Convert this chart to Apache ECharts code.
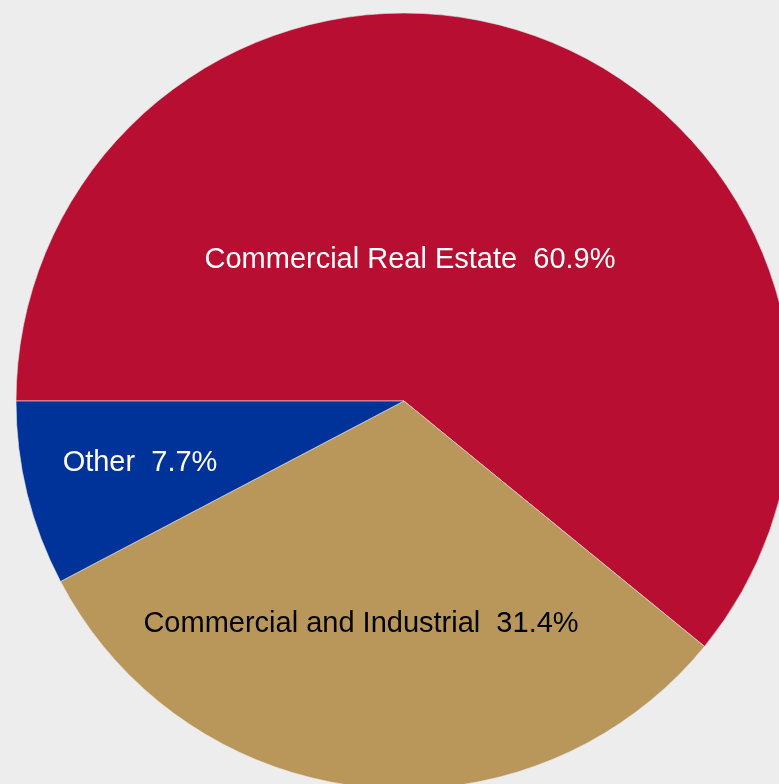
<!DOCTYPE html>
<html>
<head>
<meta charset="utf-8">
<script src="https://cdn.jsdelivr.net/npm/echarts@6/dist/echarts.min.js"></script>
<style>
  html, body { margin: 0; padding: 0; background: #ededed; }
  #chart { width: 779px; height: 784px; }
</style>
</head>
<body>
<div id="chart"></div>
<script>
// Loan portfolio composition (percent of total)
const categories = ['Commercial Real Estate', 'Commercial and Industrial', 'Other'];
const shares = [60.9, 31.4, 7.7];
const sliceColors = ['#b80e31', '#b9975b', '#00339a'];
const labelColors = ['#ffffff', '#000000', '#ffffff'];

// Label anchor points inside each slice (pixels)
const labelSpots = [[410, 260], [361, 624], [140, 463]];

const chart = echarts.init(document.getElementById('chart'), null, { renderer: 'canvas' });

chart.setOption({
  backgroundColor: '#ededed',
  animation: false,
  series: [{
    type: 'pie',
    center: [404, 401],
    radius: 388,
    startAngle: 180,
    clockwise: true,
    avoidLabelOverlap: false,
    itemStyle: { borderColor: '#e8e8e8', borderWidth: 0.6 },
    label: {
      show: true,
      position: 'inside',
      fontFamily: 'Liberation Sans, Arial, sans-serif',
      fontSize: 29,
      formatter: p => p.name + '  ' + p.value.toFixed(1) + '%'
    },
    labelLine: { show: false },
    labelLayout: p => ({
      x: labelSpots[p.dataIndex][0],
      y: labelSpots[p.dataIndex][1],
      align: 'center',
      verticalAlign: 'middle'
    }),
    emphasis: { disabled: true },
    data: categories.map((name, i) => ({
      name,
      value: shares[i],
      itemStyle: { color: sliceColors[i] },
      label: { color: labelColors[i] }
    }))
  }]
});
</script>
</body>
</html>
